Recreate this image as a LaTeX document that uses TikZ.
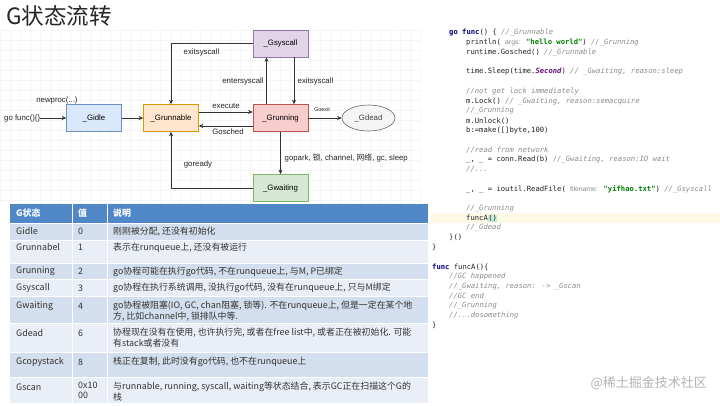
\documentclass[tikz,border=0pt]{standalone}
\usepackage{fontspec}
\setmainfont{Liberation Sans}
\newfontfamily\cjk{Noto Sans CJK SC}
\newfontfamily\codefont{DejaVu Sans Mono}
\newfontfamily\hintfont{Liberation Sans}
\usetikzlibrary{arrows.meta,shapes.geometric}
\definecolor{gridc}{HTML}{F5F5F5}
\definecolor{idlef}{HTML}{DAE8FC}\definecolor{idled}{HTML}{6C8EBF}
\definecolor{runnablef}{HTML}{FFE6CC}\definecolor{runnabled}{HTML}{D79B00}
\definecolor{runningf}{HTML}{F8CECC}\definecolor{runningd}{HTML}{B85450}
\definecolor{syscallf}{HTML}{E1D5E7}\definecolor{syscalld}{HTML}{9673A6}
\definecolor{waitingf}{HTML}{D5E8D4}\definecolor{waitingd}{HTML}{82B366}
\definecolor{deadf}{HTML}{F5F5F5}\definecolor{deadd}{HTML}{666666}
\definecolor{edgec}{HTML}{333333}
\definecolor{thead}{HTML}{4F87C7}
\definecolor{rowdark}{HTML}{D3DEEE}
\definecolor{rowlight}{HTML}{EAEFF7}
\definecolor{tabtext}{HTML}{333333}
\definecolor{kwc}{HTML}{000080}
\definecolor{cmc}{HTML}{8C8C8C}
\definecolor{strc}{HTML}{008000}
\definecolor{purp}{HTML}{660E7A}
\definecolor{hintc}{HTML}{8A8A8A}
\definecolor{codec}{HTML}{222222}
\definecolor{hlline}{HTML}{FDF9E6}
\definecolor{parenbg}{HTML}{C9EBD6}
\definecolor{wmark}{HTML}{B4B4B4}
\newcommand\kw[1]{{\bfseries\color{kwc}#1}}
\newcommand\cm[1]{{\itshape\color{cmc}#1}}
\newcommand\strl[1]{{\bfseries\color{strc}#1}}
\newcommand\hnt[1]{{\hintfont\fontsize{6.8}{8}\selectfont\color{hintc}#1}}
\begin{document}
\begin{tikzpicture}[x=1pt,y=-1pt,
  stbox/.style={draw, line width=0.6pt, minimum width=55, minimum height=27, inner sep=0, font=\fontsize{7.8}{9}\selectfont},
  arr/.style={draw=edgec, line width=0.7pt, -{Stealth[length=4.5pt,width=4pt]}},
  elab/.style={font=\fontsize{7.8}{9}\selectfont, text=black!85, inner sep=0},
  tcell/.style={anchor=west, inner sep=0, font=\cjk\fontsize{8.9}{10.8}\selectfont, text=tabtext, align=left},
  thd/.style={anchor=west, inner sep=0, font=\cjk\bfseries\fontsize{8.9}{10.8}\selectfont, text=white},
  cl/.style={anchor=west, inner sep=0, font=\codefont\fontsize{7.2}{8}\selectfont, text=codec}]
\useasboundingbox (0,0) rectangle (720,405);
\fill[white] (0,0) rectangle (720,405);
% faint grid of the drawing area
\draw[gridc, line width=0.4pt, step=10pt] (0,30) grid (420,204);

% title
\node[anchor=west, inner sep=0, font=\cjk\fontsize{22.5}{25}\selectfont, text=black!85] (title) at (6,16) {G状态流转};

% state nodes
\node[stbox, fill=idlef, draw=idled] (idle) at (94,118) {\_Gidle};
\node[stbox, fill=runnablef, draw=runnabled] (runnable) at (171,118) {\_Grunnable};
\node[stbox, fill=runningf, draw=runningd] (running) at (280.5,118) {\_Grunning};
\node[stbox, fill=syscallf, draw=syscalld] (syscall) at (280.5,43.5) {\_Gsyscall};
\node[stbox, fill=waitingf, draw=waitingd] (waiting) at (280.5,188) {\_Gwaiting};
\node[ellipse, draw=deadd, fill=deadf, line width=0.6pt, minimum width=53, minimum height=26, inner sep=0, font=\fontsize{7.8}{9}\selectfont, text=black!75] (dead) at (368.5,118) {\_Gdead};

% free texts
\node[elab, anchor=west] (gofunc) at (4,118) {go func()\{\}};
\node[elab] (newproc) at (57,100) {newproc(...)};

% connectors
\draw[arr] (gofunc.east) -- (idle.west);
\draw[arr] (idle.east) -- (runnable.west);
\draw[arr] ([shift={(0,-6)}]runnable.east) -- ([shift={(0,-6)}]running.west);
\draw[arr] ([shift={(0,8)}]running.west) -- ([shift={(0,8)}]runnable.east);
\draw[arr] ([shift={(-14,0)}]running.north) -- ([shift={(-14,0)}]syscall.south);
\draw[arr] ([shift={(13.5,0)}]syscall.south) -- ([shift={(13.5,0)}]running.north);
\draw[arr] (syscall.west) -| (runnable.north);
\draw[arr] (running.east) -- (dead.west);
\draw[arr] (running.south) -- (waiting.north);
\draw[arr] (waiting.west) -| (runnable.south);

% edge labels
\node[elab] (lexit1) at (201.5,52) {exitsyscall};
\node[elab] (lenter) at (243,81) {entersyscall};
\node[elab] (lexit2) at (315.5,81) {exitsyscall};
\node[elab] (lexec) at (226,106) {execute};
\node[elab] (lgosched) at (228,132) {Gosched};
\node[elab, font=\fontsize{5.5}{6}\selectfont] (lgoexit) at (322,110) {Goexit};
\node[elab, anchor=west] (lgopark) at (284.5,158) {gopark, {\cjk 锁}, channel, {\cjk 网络}, gc, sleep};
\node[elab] (lgoready) at (198,164) {goready};

% table
\fill[thead] (10,204) rectangle (428,223);
\fill[rowdark] (10,223) rectangle (428,240);
\fill[rowlight] (10,240) rectangle (428,263);
\fill[rowdark] (10,263) rectangle (428,279);
\fill[rowlight] (10,279) rectangle (428,296);
\fill[rowdark] (10,296) rectangle (428,323);
\fill[rowlight] (10,323) rectangle (428,352);
\fill[rowdark] (10,352) rectangle (428,377);
\fill[rowlight] (10,377) rectangle (428,403);
\foreach \yy in {223,240,263,279,296,323,352,377} \draw[white, line width=0.8pt] (10,\yy) -- (428,\yy);
\draw[white, line width=0.8pt] (72,204) -- (72,403);
\draw[white, line width=0.8pt] (107,204) -- (107,403);

\node[thd] (h1) at (16,213) {G状态};
\node[thd] (h2) at (78,213) {值};
\node[thd] (h3) at (113,213) {说明};

\node[tcell] (a1) at (16,231.5) {Gidle};
\node[tcell] (b1) at (78,231.5) {0};
\node[tcell] (c1) at (113,231.5) {刚刚被分配, 还没有初始化};

\node[tcell] (a2) at (16,247.5) {Grunnabel};
\node[tcell] (b2) at (78,247.5) {1};
\node[tcell] (c2) at (113,247.5) {表示在runqueue上, 还没有被运行};

\node[tcell] (a3) at (16,271.5) {Grunning};
\node[tcell] (b3) at (78,271.5) {2};
\node[tcell] (c3) at (113,271.5) {go协程可能在执行go代码, 不在runqueue上, 与M, P已绑定};

\node[tcell] (a4) at (16,288) {Gsyscall};
\node[tcell] (b4) at (78,288) {3};
\node[tcell] (c4) at (113,288) {go协程在执行系统调用, 没执行go代码, 没有在runqueue上, 只与M绑定};

\node[tcell] (a5) at (16,306) {Gwaiting};
\node[tcell] (b5) at (78,306) {4};
\node[tcell, anchor=north west] (c5) at (113,300.5) {go协程被阻塞(IO, GC, chan阻塞, 锁等). 不在runqueue上, 但是一定在某个地\\方, 比如channel中, 锁排队中等.};

\node[tcell] (a6) at (16,333) {Gdead};
\node[tcell] (b6) at (78,333) {6};
\node[tcell, anchor=north west] (c6) at (113,327.5) {协程现在没有在使用, 也许执行完, 或者在free list中, 或者正在被初始化. 可能\\有stack或者没有};

\node[tcell] (a7) at (16,362) {Gcopystack};
\node[tcell] (b7) at (78,362) {8};
\node[tcell] (c7) at (113,362) {栈正在复制, 此时没有go代码, 也不在runqueue上};

\node[tcell] (a8) at (16,387) {Gscan};
\node[tcell, anchor=north west] (b8) at (78,381.5) {0x10\\00};
\node[tcell, anchor=north west] (c8) at (113,381.5) {与runnable, running, syscall, waiting等状态结合, 表示GC正在扫描这个G的\\栈};

% code panel
\fill[hlline] (431,213.3) rectangle (720,223.3);
\node[cl] (l0) at (449,33) {\kw{go} \kw{func}() \{ \cm{//\_Grunnable}};
\node[cl] (l1) at (466,42.75) {println( \hnt{args:} \strl{"hello world"})  \cm{//\_Grunning}};
\node[cl] (l2) at (466,52.5) {runtime.Gosched() \cm{//\_Grunnable}};
\node[cl] (l4) at (466,72) {time.Sleep(time.{\bfseries\itshape\color{purp}Second}) \cm{// \_Gwaiting, reason:sleep}};
\node[cl] (l6) at (466,91.5) {\cm{//not get lock immediately}};
\node[cl] (l7) at (466,101.25) {m.Lock() \cm{// \_Gwaiting, reason:semacquire}};
\node[cl] (l8) at (466,111) {\cm{//\_Grunning}};
\node[cl] (l9) at (466,120.75) {m.Unlock()};
\node[cl] (l10) at (466,130.5) {b:=make([]byte,100)};
\node[cl] (l12) at (466,150) {\cm{//read from network}};
\node[cl] (l13) at (466,159.75) {\_, \_ = conn.Read(b) \cm{//\_Gwaiting, reason:IO wait}};
\node[cl] (l14) at (466,169.5) {\cm{//...}};
\node[cl] (l16) at (466,189) {\_, \_ = ioutil.ReadFile( \hnt{filename:} \strl{"yifhao.txt"}) \cm{//\_Gsyscall}};
\node[cl] (l18) at (466,208.5) {\cm{//\_Grunning}};
\node[cl] (l19) at (466,218.25) {funcA{\setlength{\fboxsep}{0.4pt}\colorbox{parenbg}{()}}};
\node[cl] (l20) at (466,228) {\cm{//\_Gdead}};
\node[cl] (l21) at (449,237.75) {\}()};
\node[cl] (l22) at (432,247.5) {\}};
\node[cl] (l24) at (432,267) {\kw{func} funcA()\{};
\node[cl] (l25) at (449,276.75) {\cm{//GC happened}};
\node[cl] (l26) at (449,286.5) {\cm{//\_Gwaiting, reason: -> \_Gscan}};
\node[cl] (l27) at (449,296.25) {\cm{//GC end}};
\node[cl] (l28) at (449,306) {\cm{//\_Grunning}};
\node[cl] (l29) at (449,315.75) {\cm{//...dosomething}};
\node[cl] (l30) at (432,325.5) {\}};

% watermark
\node[anchor=east, inner sep=0, font=\cjk\fontsize{13}{15}\selectfont, text=wmark] (wm) at (707,383) {@稀土掘金技术社区};
\end{tikzpicture}
\end{document}
